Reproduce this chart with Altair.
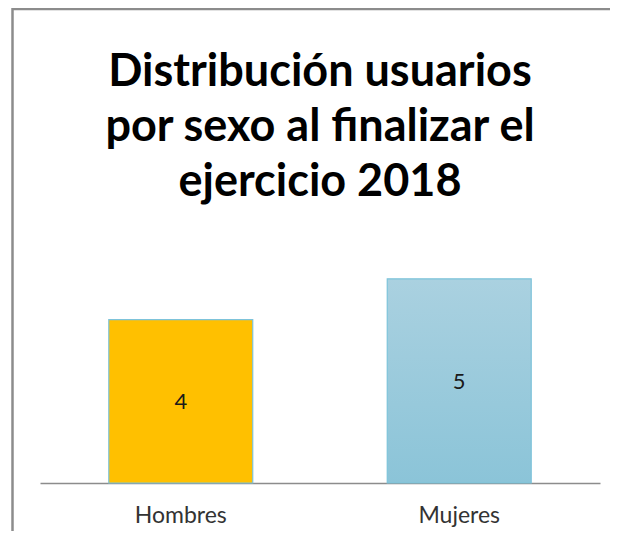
import altair as alt
import pandas as pd

categories = ["Hombres", "Mujeres"]
values = [4, 5]
title_lines = ["Distribución usuarios", "por sexo al finalizar el", "ejercicio 2018"]

df = pd.DataFrame({"cat": categories, "value": values})

x_enc = alt.X("cat:N", sort=categories,
              scale=alt.Scale(paddingInner=0.483, paddingOuter=0.247),
              axis=alt.Axis(title=None, labelAngle=0, ticks=False, domain=True,
                            domainColor="#8c8c8c", domainWidth=1.5,
                            labelFont="Lato", labelFontSize=23, labelColor="#333333",
                            labelPadding=32, labelBaseline="middle"))
y_enc = alt.Y("value:Q", scale=alt.Scale(domain=[0, 6]), axis=None)

base = alt.Chart(df)

bar_h = base.transform_filter(alt.datum.cat == "Hombres").mark_bar(
    fill="#FFC000", stroke="#7DC3DA", strokeWidth=1.2
).encode(x=x_enc, y=y_enc)

grad = alt.Gradient(gradient="linear", x1=0, y1=0, x2=0, y2=1,
                    stops=[alt.GradientStop(color="#AAD1E0", offset=0),
                           alt.GradientStop(color="#8BC4D8", offset=1)])
bar_m = base.transform_filter(alt.datum.cat == "Mujeres").mark_bar(
    fill=grad, stroke="#7DC3DA", strokeWidth=1.2
).encode(x=x_enc, y=y_enc)

labels = base.transform_calculate(mid="datum.value / 2").mark_text(
    font="Lato", fontSize=22, color="#1a1a1a", baseline="middle", dy=1
).encode(x=alt.X("cat:N", sort=categories), y=alt.Y("mid:Q"), text="value:Q")

frame_data = alt.Data(values=[{"k": 1}])
frame_top = alt.Chart(frame_data).mark_rule(color="#8c8c8c", strokeWidth=2.5).encode(
    x=alt.value(-27.5), x2=alt.value(575), y=alt.value(-229))
frame_left = alt.Chart(frame_data).mark_rule(color="#8c8c8c", strokeWidth=2.5).encode(
    x=alt.value(-27.5), y=alt.value(-230), y2=alt.value(300))

chart = alt.layer(bar_h, bar_m, labels, frame_top, frame_left).properties(
    width=560, height=245,
    autosize=alt.AutoSizeParams(type="none"),
    padding={"left": 32, "top": 230, "right": 10, "bottom": 48},
    title=alt.TitleParams(text=title_lines, font="Lato", fontSize=45, fontWeight="bold",
                          color="#000000", anchor="middle", lineHeight=55, offset=-198,
                          baseline="top"),
).configure_view(stroke=None)

chart.save("out.html", embed_options={"renderer": "svg", "actions": False})
